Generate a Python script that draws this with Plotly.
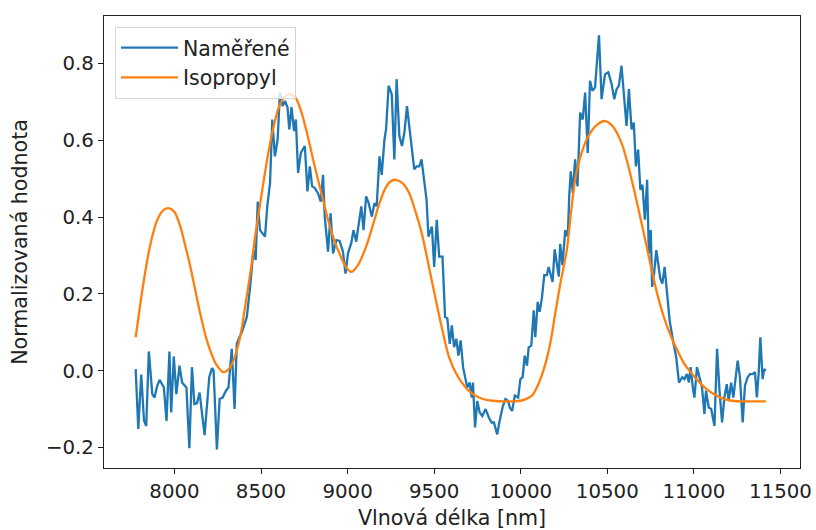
import plotly.graph_objects as go

# Measured spectrum (Naměřené)
blue_x = [7776, 7791, 7808, 7824, 7837, 7852, 7872, 7885, 7900, 7914, 7939, 7954, 7971, 7981, 7996,
          8011, 8029, 8044, 8069, 8086, 8101, 8115, 8130, 8145, 8174, 8201, 8217, 8226, 8245, 8261,
          8278, 8299, 8312, 8331, 8347, 8360, 8375, 8389, 8418, 8437, 8456, 8469, 8481, 8494, 8523,
          8536, 8552, 8565, 8580, 8596, 8609, 8625, 8638, 8653, 8663, 8676, 8691, 8701, 8714, 8730,
          8753, 8768, 8782, 8795, 8810, 8829, 8845, 8858, 8868, 8887, 8902, 8916, 8935, 8954, 8973,
          8988, 9002, 9021, 9034, 9050, 9065, 9079, 9092, 9107, 9122, 9140, 9155, 9168, 9184, 9197,
          9213, 9222, 9237, 9255, 9270, 9283, 9299, 9314, 9328, 9343, 9356, 9372, 9385, 9398, 9414,
          9427, 9438, 9456, 9467, 9487, 9500, 9515, 9529, 9548, 9563, 9576, 9590, 9602, 9615, 9628,
          9640, 9653, 9667, 9678, 9691, 9705, 9717, 9724, 9736, 9749, 9763, 9778, 9797, 9816, 9832,
          9845, 9864, 9878, 9897, 9912, 9927, 9937, 9950, 9966, 9985, 9998, 10011, 10023, 10036, 10046,
          10061, 10075, 10084, 10098, 10109, 10122, 10136, 10151, 10161, 10171, 10184, 10196, 10211, 10220, 10228,
          10241, 10257, 10272, 10280, 10289, 10301, 10314, 10328, 10343, 10358, 10372, 10387, 10400, 10414, 10429,
          10452, 10467, 10487, 10506, 10525, 10540, 10554, 10567, 10582, 10598, 10611, 10625, 10640, 10653, 10665,
          10678, 10691, 10703, 10717, 10730, 10740, 10751, 10759, 10770, 10783, 10806, 10818, 10831, 10845, 10860,
          10879, 10898, 10914, 10933, 10946, 10960, 10971, 10981, 10994, 11003, 11018, 11032, 11047, 11061, 11070,
          11086, 11100, 11119, 11134, 11148, 11163, 11176, 11190, 11201, 11215, 11228, 11238, 11253, 11266, 11282,
          11295, 11311, 11324, 11339, 11353, 11364, 11374, 11384, 11397, 11406, 11416]
blue_y = [0.004, -0.152, -0.01, -0.13, -0.144, 0.05, -0.061, -0.07, -0.04, -0.024, -0.044, -0.131, 0.05, -0.109, 0.037,
          -0.061, 0.013, -0.031, -0.044, -0.202, 0.009, -0.087, -0.085, -0.057, -0.168, -0.017, 0.007, 0.0, -0.205, -0.074,
          -0.07, -0.051, -0.044, 0.057, -0.1, 0.07, 0.087, 0.1, 0.14, 0.218, 0.314, 0.288, 0.44, 0.366, 0.349,
          0.428, 0.489, 0.654, 0.558, 0.602, 0.724, 0.689, 0.702, 0.686, 0.628, 0.686, 0.624, 0.654, 0.515, 0.567,
          0.585, 0.467, 0.532, 0.48, 0.476, 0.462, 0.44, 0.51, 0.401, 0.31, 0.41, 0.305, 0.34, 0.338, 0.31,
          0.253, 0.305, 0.332, 0.366, 0.336, 0.384, 0.428, 0.366, 0.454, 0.436, 0.401, 0.436, 0.428, 0.558, 0.51,
          0.602, 0.628, 0.742, 0.72, 0.55, 0.759, 0.611, 0.585, 0.62, 0.689, 0.637, 0.567, 0.524, 0.532, 0.532,
          0.55, 0.515, 0.445, 0.349, 0.375, 0.27, 0.393, 0.297, 0.297, 0.14, 0.136, 0.07, 0.118, 0.061, 0.083,
          0.039, 0.079, 0.009, -0.017, -0.044, -0.031, -0.07, -0.031, -0.148, -0.079, -0.109, -0.118, -0.1, -0.122, -0.135,
          -0.135, -0.166, -0.131, -0.092, -0.074, -0.079, -0.096, -0.105, -0.065, -0.07, -0.022, -0.017, 0.039, 0.013, 0.061,
          0.065, 0.157, 0.087, 0.179, 0.153, 0.188, 0.249, 0.249, 0.27, 0.253, 0.231, 0.316, 0.275, 0.245, 0.33,
          0.275, 0.366, 0.349, 0.454, 0.519, 0.462, 0.55, 0.48, 0.672, 0.654, 0.724, 0.567, 0.755, 0.729, 0.737,
          0.873, 0.707, 0.772, 0.777, 0.746, 0.707, 0.733, 0.742, 0.794, 0.698, 0.637, 0.733, 0.628, 0.646, 0.532,
          0.576, 0.471, 0.484, 0.393, 0.497, 0.305, 0.366, 0.218, 0.253, 0.314, 0.24, 0.227, 0.27, 0.2, 0.131,
          0.079, 0.035, -0.031, -0.017, -0.022, -0.009, -0.031, 0.009, -0.044, -0.07, 0.009, -0.017, -0.044, -0.113, -0.052,
          -0.096, -0.1, -0.144, 0.057, -0.052, -0.135, -0.07, -0.035, -0.079, -0.031, -0.07, -0.035, 0.026, -0.017, -0.135,
          -0.039, -0.017, -0.009, -0.009, -0.004, -0.07, -0.009, 0.087, -0.022, 0.004, 0.0]

# Reference spectrum (Isopropyl)
orange_x = [7776, 7800, 7825, 7850, 7875, 7900, 7933, 7967, 8000, 8034, 8060, 8092, 8120, 8149, 8180, 8207,
            8240, 8283, 8315, 8341, 8379, 8408, 8440, 8466, 8500, 8542, 8570, 8599, 8630, 8667, 8700,
            8734, 8770, 8810, 8850, 8887, 8930, 8960, 8990, 9021, 9060, 9107, 9150, 9184, 9215, 9245,
            9280, 9320, 9356, 9395, 9433, 9470, 9510, 9550, 9586, 9630, 9682, 9720, 9759, 9800, 9855,
            9900, 9950, 9989, 10030, 10065, 10103, 10142, 10170, 10199, 10230, 10266, 10290, 10314, 10350, 10391,
            10440, 10487, 10530, 10582, 10620, 10659, 10700, 10736, 10770, 10793, 10830, 10870, 10910, 10946, 10985,
            11023, 11060, 11100, 11140, 11176, 11234, 11300, 11360, 11416]
orange_y = [0.087, 0.165, 0.24, 0.305, 0.355, 0.392, 0.417, 0.423, 0.413, 0.375, 0.33, 0.27, 0.21, 0.148, 0.09, 0.052,
            0.017, -0.004, 0.005, 0.026, 0.087, 0.166, 0.26, 0.349, 0.45, 0.567, 0.63, 0.681, 0.71, 0.72, 0.71,
            0.672, 0.61, 0.532, 0.46, 0.393, 0.33, 0.298, 0.27, 0.257, 0.275, 0.323, 0.385, 0.436, 0.472, 0.492,
            0.497, 0.487, 0.462, 0.41, 0.349, 0.27, 0.183, 0.1, 0.035, -0.01, -0.044, -0.06, -0.07, -0.076, -0.079,
            -0.08, -0.08, -0.079, -0.074, -0.065, -0.034, 0.017, 0.07, 0.148, 0.23, 0.314, 0.41, 0.497, 0.565, 0.611,
            0.64, 0.65, 0.637, 0.593, 0.535, 0.462, 0.38, 0.305, 0.235, 0.192, 0.135, 0.087, 0.048, 0.017, -0.006,
            -0.026, -0.043, -0.057, -0.067, -0.074, -0.079, -0.08, -0.08, -0.08]

x_ticks = [8000, 8500, 9000, 9500, 10000, 10500, 11000, 11500]
y_ticks = [-0.2, 0.0, 0.2, 0.4, 0.6, 0.8]

FONT = "DejaVu Sans"
TXT = "#222"
fig = go.Figure()
fig.add_trace(go.Scatter(x=blue_x, y=blue_y, mode="lines", name="Naměřené",
                         line=dict(color="#1f77b4", width=2.3)))
fig.add_trace(go.Scatter(x=orange_x, y=orange_y, mode="lines", name="Isopropyl",
                         line=dict(color="#ff7f0e", width=2.3, shape="spline", smoothing=0.8)))

axis_common = dict(showline=True, linecolor=TXT, linewidth=1.2, mirror=True,
                   ticks="outside", ticklen=5, tickwidth=1.2, tickcolor=TXT,
                   showgrid=False, zeroline=False, automargin=False,
                   tickfont=dict(family=FONT, size=19.8, color=TXT))
fig.update_layout(
    width=816, height=530,
    margin=dict(l=104, r=16, t=16, b=62),
    paper_bgcolor="white", plot_bgcolor="white",
    font=dict(family=FONT, size=20.5, color=TXT),
    xaxis=dict(range=[7593, 11613], tickvals=x_ticks, tickformat="d",
               title=dict(text="Vlnová délka [nm]", font=dict(family=FONT, size=20.6, color=TXT), standoff=8),
               **axis_common),
    yaxis=dict(range=[-0.2535, 0.9235], tickvals=y_ticks, tickformat=".1f",
               title=dict(text="Normalizovaná hodnota", font=dict(family=FONT, size=20.6, color=TXT), standoff=12),
               **axis_common),
    legend=dict(x=0.0158, y=0.976, xanchor="left", yanchor="top",
                bgcolor="rgba(255,255,255,0.8)", bordercolor="#d5d5d5", borderwidth=1,
                font=dict(family=FONT, size=20.5, color=TXT), itemwidth=57),
    showlegend=True,
)
fig.write_html("out.html")
